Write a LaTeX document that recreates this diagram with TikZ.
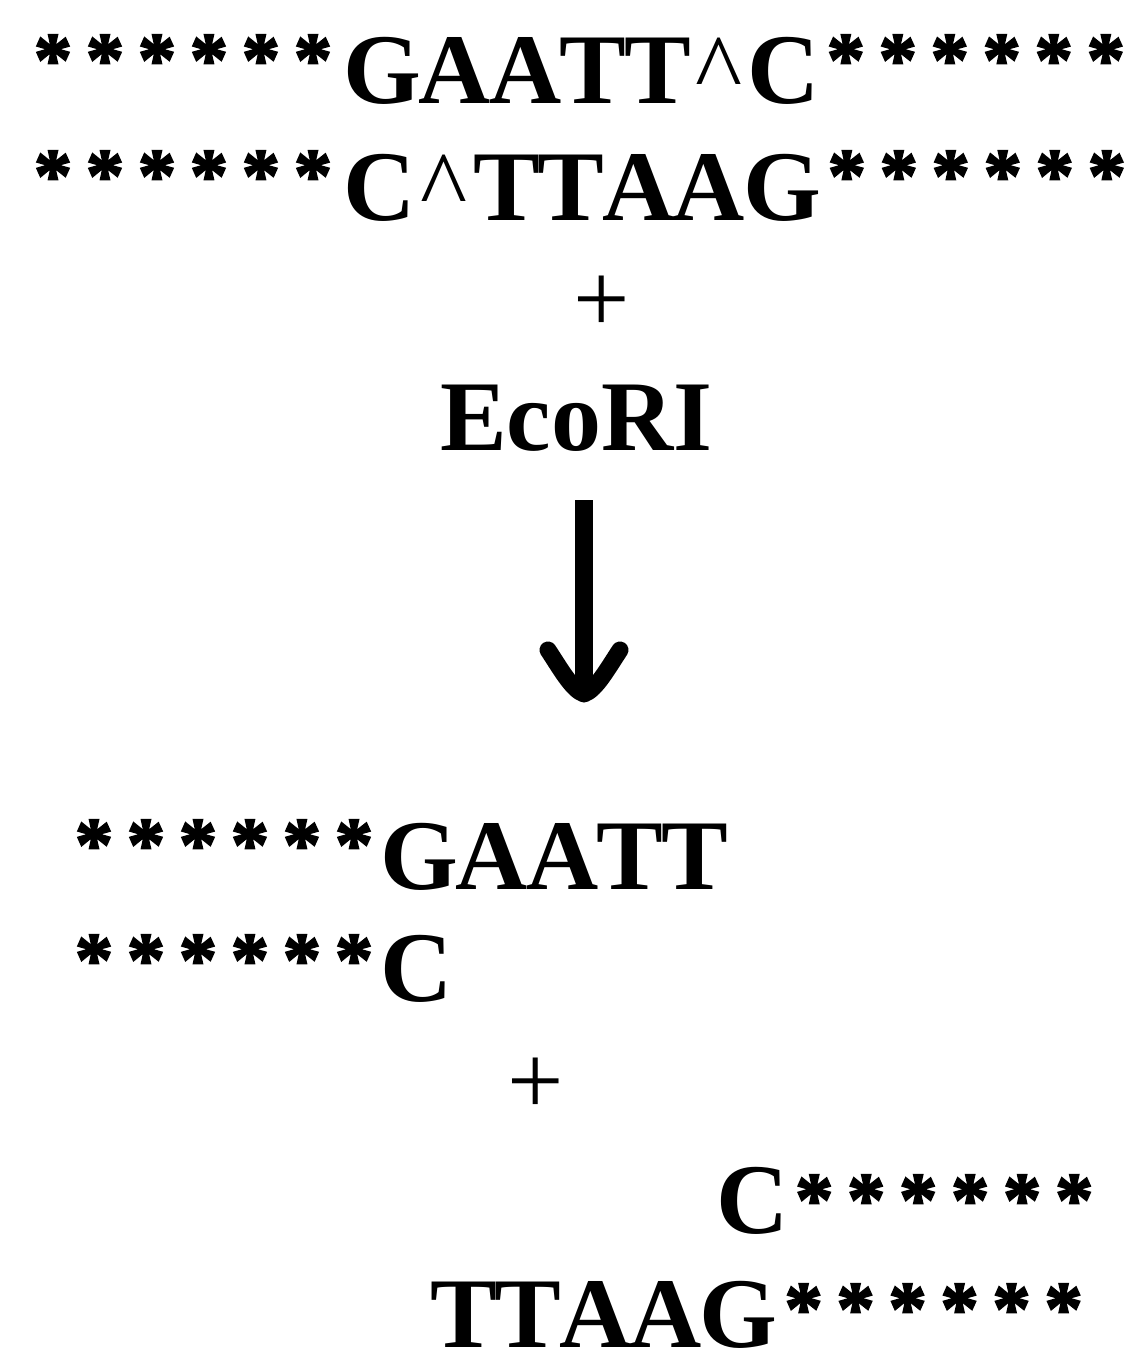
\documentclass[tikz,border=0pt]{standalone}
\usepackage{fontspec}
\usetikzlibrary{calc}
\setmainfont{Liberation Serif}[Kerning=Off]
\newfontfamily\seqfont{Liberation Serif Bold}[Kerning=Off,LetterSpace=-2]
\newfontfamily\labelfont{Liberation Serif Bold}[Kerning=Off]
\newfontfamily\starfont{Liberation Serif Bold}[FakeBold=2.5]
\newcommand{\onestar}[1]{\makebox[52pt]{\raisebox{#1pt}{\fontsize{76}{90}\starfont *}}}
\newcommand{\starrun}[1]{\onestar{#1}\onestar{#1}\onestar{#1}\onestar{#1}\onestar{#1}\onestar{#1}}
\newcommand{\caretmark}[1]{\makebox[#1pt]{\normalfont\fontsize{100}{120}\selectfont\textasciicircum}}
\begin{document}
\begin{tikzpicture}[x=1pt,y=-1pt,
  seq/.style={anchor=base west,inner sep=0pt,outer sep=0pt,font=\fontsize{100}{120}\seqfont},
  enzymelabel/.style={anchor=base west,inner sep=0pt,outer sep=0pt,font=\fontsize{100}{120}\labelfont},
  plussign/.style={anchor=base,inner sep=0pt,outer sep=0pt,font=\fontsize{100}{120}\selectfont},
  shaft/.style={line width=18pt},
  barb/.style={line width=17pt,line cap=round,line join=round}]
\useasboundingbox (0,0) rectangle (1133,1367);
\fill[white] (0,0) rectangle (1133,1367);
\node[seq] (top1) at (27,104) {\starrun{19}\kern4pt GAATT\caretmark{57}C\starrun{19}};
\node[seq] (top2) at (27,220) {\starrun{19}\kern4pt C\caretmark{58}TTAAG\starrun{19}};
\node[plussign] (plus1) at (602,332) {+};
\node[enzymelabel] (enzyme) at (440,450) {EcoRI};
\coordinate (arrS) at (584,500);
\coordinate (arrE) at (584,694);
\draw[shaft] (arrS) -- (arrE);
\draw[barb] ($(arrE)+(-36,-44)$) .. controls ($(arrE)+(-24,-26)$) and ($(arrE)+(-12,-4)$) .. (arrE)
  .. controls ($(arrE)+(12,-4)$) and ($(arrE)+(24,-26)$) .. ($(arrE)+(36,-44)$);
\node[seq] (frag1) at (68,889) {\starrun{19}GAATT};
\node[seq] (frag2) at (68,1001) {\starrun{16}C};
\node[plussign] (plus2) at (536,1114) {+};
\node[seq] (frag3) at (716,1233) {C\starrun{8}};
\node[seq] (frag4) at (430,1347) {TTAAG\starrun{13}};
\end{tikzpicture}
\end{document}
